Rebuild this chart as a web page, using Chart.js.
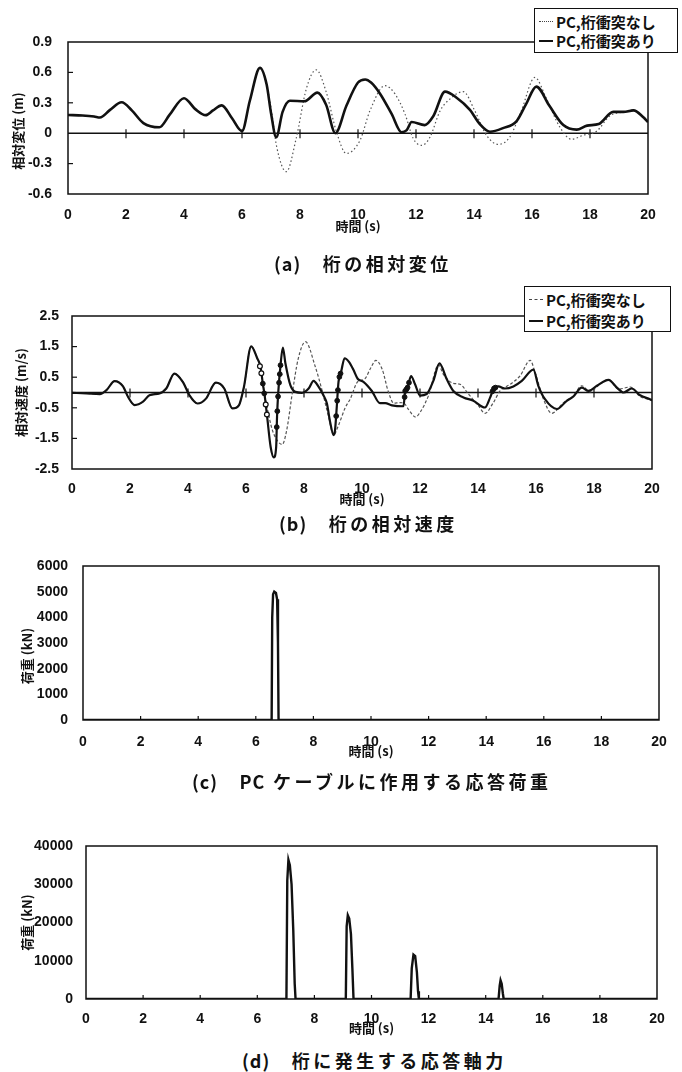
<!DOCTYPE html>
<html><head><meta charset="utf-8">
<script src="https://cdn.jsdelivr.net/npm/chart.js@4.4.1/dist/chart.umd.min.js"></script>
<style>
html,body{margin:0;padding:0;background:#fff;}
body{width:682px;height:1072px;position:relative;overflow:hidden;font-family:'Noto Sans CJK JP',sans-serif;color:#111;}
canvas{position:absolute;left:0;}
.title{position:absolute;font-weight:700;font-size:18px;letter-spacing:3.5px;white-space:nowrap;line-height:22px;z-index:5;}
.title .p{letter-spacing:1px;}
.legend{position:absolute;box-sizing:border-box;background:#fff;border:1.5px solid #111;z-index:6;font-weight:700;font-size:15px;white-space:nowrap;padding-left:4px;}
.legend .row{display:flex;align-items:center;}
.legend .s{display:inline-block;width:14px;margin-right:3px;height:0;}
</style></head>
<body>
<canvas id="ca" width="682" height="240" style="top:0px"></canvas>
<canvas id="cb" width="682" height="260" style="top:250px"></canvas>
<canvas id="cc" width="682" height="240" style="top:530px"></canvas>
<canvas id="cd" width="682" height="250" style="top:790px"></canvas>

<div class="legend" style="left:534px;top:8px;width:144px;height:45px;padding-top:3px;line-height:19px;">
  <div class="row"><span class="s" style="border-top:1.5px dotted #444"></span>PC,桁衝突なし</div>
  <div class="row"><span class="s" style="border-top:2px solid #111"></span>PC,桁衝突あり</div>
</div>
<div class="legend" style="left:524px;top:286px;width:147px;height:46px;padding-top:2px;line-height:21px;">
  <div class="row"><span class="s" style="border-top:1.5px dashed #444"></span>PC,桁衝突なし</div>
  <div class="row"><span class="s" style="border-top:2px solid #111"></span>PC,桁衝突あり</div>
</div>

<div class="title" style="left:274px;top:252px;"><span class="p">(a)</span>　桁の相対変位</div>
<div class="title" style="left:279px;top:512px;"><span class="p">(b)</span>　桁の相対速度</div>
<div class="title" style="left:192px;top:770px;"><span class="p">(c)</span>　<span class="p">PC</span> ケーブルに作用する応答荷重</div>
<div class="title" style="left:242px;top:1049px;"><span class="p">(d)</span>　桁に発生する応答軸力</div>

<script>
// ---------- data ----------
const xTicks = [0,2,4,6,8,10,12,14,16,18,20];

// (a) relative displacement (m)
const aTimeSolid = [0,0.5,0.9,1.1,1.45,1.85,2.2,2.6,3.15,3.5,4.0,4.4,4.75,5.0,5.3,5.65,6.0,6.27,6.62,6.85,7.0,7.18,7.4,7.65,8.15,8.6,8.9,9.22,9.6,10.0,10.25,10.45,10.76,11.16,11.5,11.68,11.85,12.3,12.6,13.0,13.4,13.86,14.2,14.55,15.0,15.47,15.8,16.15,16.6,17.08,17.54,17.9,18.3,18.8,19.15,19.5,19.83,20];
const aSolid = [0.18,0.175,0.165,0.155,0.23,0.305,0.225,0.10,0.058,0.18,0.345,0.235,0.178,0.225,0.275,0.15,0.02,0.32,0.645,0.48,0.2,-0.04,0.21,0.32,0.315,0.40,0.28,0.0,0.27,0.5,0.53,0.5,0.39,0.19,0.01,0.03,0.11,0.08,0.17,0.41,0.35,0.23,0.09,0.015,0.05,0.12,0.29,0.46,0.27,0.08,0.035,0.075,0.09,0.21,0.21,0.225,0.16,0.11];
const aTimeDot = [0,0.5,0.9,1.1,1.45,1.85,2.2,2.6,3.15,3.5,4.0,4.4,4.75,5.0,5.3,5.65,6.0,6.27,6.62,6.85,7.0,7.2,7.53,7.87,8.22,8.56,8.9,9.25,9.6,10.07,10.41,10.93,11.27,11.62,11.9,12.2,12.48,12.83,13.18,13.63,14.03,14.43,14.83,15.23,15.63,16.1,16.5,16.96,17.36,17.77,18.23,18.68,19.15,19.49,19.83,20];
const aDot = [0.18,0.175,0.165,0.155,0.23,0.305,0.225,0.10,0.058,0.18,0.345,0.235,0.178,0.225,0.275,0.15,0.02,0.32,0.645,0.47,0.25,-0.14,-0.38,-0.05,0.44,0.625,0.41,0.02,-0.2,-0.07,0.22,0.47,0.39,0.19,-0.05,-0.12,-0.04,0.22,0.34,0.41,0.22,-0.02,-0.11,-0.04,0.22,0.55,0.34,0.06,-0.06,-0.02,0.02,0.17,0.21,0.23,0.16,0.11];

// (b) relative velocity (m/s)
const bTimeSolid = [0,0.5,0.96,1.19,1.47,1.76,1.93,2.16,2.45,2.67,3.02,3.25,3.53,3.82,4.05,4.33,4.62,4.96,5.25,5.53,5.76,5.93,6.18,6.39,6.5,6.58,6.65,6.73,6.85,6.96,7.04,7.07,7.11,7.19,7.27,7.36,7.53,7.7,7.93,8.16,8.33,8.5,8.67,8.79,8.9,9.02,9.07,9.13,9.19,9.28,9.4,9.55,9.7,9.85,10.05,10.34,10.62,10.8,11.03,11.43,11.49,11.57,11.69,11.83,12.0,12.23,12.46,12.67,12.92,13.15,13.5,13.84,14.24,14.42,14.53,14.7,14.93,15.22,15.51,15.91,16.08,16.31,16.72,17.06,17.29,17.58,17.81,18.1,18.5,18.79,19.02,19.3,19.59,19.93,20];
const bSolid = [-0.01,-0.03,-0.05,0.08,0.37,0.2,-0.14,-0.41,-0.3,-0.09,-0.03,0.13,0.62,0.35,-0.09,-0.36,-0.2,0.32,0.13,-0.52,-0.41,0.19,1.51,1.11,0.84,0.29,-0.14,-0.8,-1.78,-2.12,-1.78,-0.8,-0.03,0.89,1.47,0.95,0.24,0.02,-0.01,0.13,0.38,0.19,-0.09,-0.36,-0.96,-1.39,-1.23,-0.47,0.35,0.68,1.12,1.0,0.75,0.45,0.35,0.05,-0.35,-0.35,-0.42,-0.45,0.05,0.16,0.54,0.27,-0.1,-0.05,0.38,0.95,0.44,0.05,-0.16,-0.27,-0.49,-0.16,0.11,0.2,0.13,0.2,0.38,0.75,0.22,-0.22,-0.54,-0.27,-0.13,0.16,0.05,0.22,0.41,0.16,0.0,0.13,-0.09,-0.22,-0.25];
const bTimeDot = [0,0.5,0.96,1.19,1.47,1.76,1.93,2.16,2.45,2.67,3.02,3.25,3.53,3.82,4.05,4.33,4.62,4.96,5.25,5.53,5.76,5.93,6.18,6.39,6.5,6.58,6.65,6.73,6.9,7.1,7.25,7.4,7.6,7.8,8.05,8.39,8.62,8.85,9.02,9.19,9.42,9.6,9.85,10.1,10.3,10.48,10.7,10.9,11.1,11.3,11.45,11.6,11.85,12.0,12.29,12.64,12.8,13.15,13.38,13.67,14.02,14.24,14.53,14.76,15.11,15.45,15.8,15.97,16.26,16.54,16.95,17.29,17.58,17.87,18.16,18.5,18.84,19.25,19.59,19.93,20];
const bDot = [-0.01,-0.03,-0.05,0.08,0.37,0.2,-0.14,-0.41,-0.3,-0.09,-0.03,0.13,0.62,0.35,-0.09,-0.36,-0.2,0.32,0.13,-0.52,-0.41,0.19,1.51,1.11,0.84,0.29,-0.1,-0.5,-1.2,-1.6,-1.7,-1.25,0.0,1.1,1.66,0.84,0.08,-0.8,-1.39,-1.07,-0.5,-0.2,0.35,0.45,0.8,1.05,0.75,0.05,-0.35,-0.33,-0.35,-0.55,-0.8,-0.65,-0.11,0.9,0.6,0.3,0.27,-0.05,-0.44,-0.68,-0.33,0.05,0.27,0.54,1.05,0.65,-0.22,-0.68,-0.33,-0.11,0.22,0.02,0.24,0.43,0.11,0.18,-0.13,-0.24,-0.27];
// collision markers on the (b) curve
const bOpenT = [6.48,6.53,6.68,6.72];
const bOpenV = [0.86,0.63,-0.39,-0.72];
const bFillT = [6.58,6.63,7.06,7.08,7.105,7.14,7.165,7.19,9.11,9.145,9.17,9.22,9.26,11.47,11.49,11.53,11.57,11.62,14.5,14.55,14.6];
const bFillV = [0.29,-0.03,-1.13,-0.61,-0.13,0.32,0.6,0.89,-0.77,-0.27,0.08,0.51,0.62,-0.15,0.05,0.1,0.16,0.32,0.04,0.13,0.16];

// (c) PC cable load (kN)
const cTime = [0,6.55,6.57,6.6,6.64,6.7,6.74,6.77,6.79,20];
const cLoad = [0,0,4000,4900,5000,4950,4700,3000,0,0];

// (d) girder axial force (kN)
const dTime = [0,7.02,7.05,7.09,7.14,7.2,7.26,7.31,7.34,9.1,9.13,9.17,9.22,9.28,9.33,9.37,11.37,11.41,11.47,11.53,11.59,11.63,11.66,14.45,14.49,14.52,14.56,14.6,14.63,20];
const dLoad = [0,0,31000,36400,35000,30000,18000,4000,0,0,19000,21900,21000,17000,8000,0,0,8000,11600,11200,7000,2000,0,0,3500,4900,4000,1500,0,0];

// ---------- helpers ----------
const pts = (ts, vs) => ts.map((t, i) => ({x: t, y: vs[i]}));
const tickFont = {family: "'Liberation Sans',sans-serif", size: 14, weight: 'bold'};
const cjkFont = {family: "'Noto Sans CJK JP',sans-serif", size: 13, weight: 'bold'};

const axisDecor = {
  id: 'axisDecor',
  beforeDatasetsDraw(chart, args, o) {
    const {ctx, chartArea: a, scales: {x, y}} = chart;
    ctx.save();
    ctx.strokeStyle = '#111';
    const base = o.zero ? y.getPixelForValue(0) : a.bottom;
    if (o.zero) {
      ctx.lineWidth = 1.4;
      ctx.beginPath(); ctx.moveTo(a.left, base); ctx.lineTo(a.right, base); ctx.stroke();
    }
    ctx.lineWidth = 1.2;
    x.ticks.forEach(t => {
      if (t.value <= x.min || t.value >= x.max) return;
      const px = x.getPixelForValue(t.value);
      ctx.beginPath(); ctx.moveTo(px, base - o.up); ctx.lineTo(px, base + o.down); ctx.stroke();
    });
    if (o.yTicks) {
      y.ticks.forEach(t => {
        if (t.value <= y.min || t.value >= y.max || Math.abs(t.value) < 1e-9) return;
        const py = y.getPixelForValue(t.value);
        ctx.beginPath(); ctx.moveTo(a.left, py); ctx.lineTo(a.left + 5, py); ctx.stroke();
      });
    }
    ctx.restore();
  },
  afterDraw(chart) {
    const {ctx, chartArea: a} = chart;
    ctx.save();
    ctx.strokeStyle = '#111'; ctx.lineWidth = 1.5;
    ctx.strokeRect(a.left, a.top, a.right - a.left, a.bottom - a.top);
    ctx.restore();
  }
};

function build(id, H, area, datasets, y, deco) {
  return new Chart(document.getElementById(id), {
    type: 'line',
    data: {datasets},
    plugins: [axisDecor],
    options: {
      responsive: false, animation: false, events: [],
      layout: {padding: {top: area.top, right: 682 - area.right, left: 0, bottom: 0}},
      plugins: {legend: {display: false}, tooltip: {enabled: false}, axisDecor: deco},
      scales: {
        x: {
          type: 'linear', min: 0, max: 20,
          afterBuildTicks: s => { s.ticks = xTicks.map(v => ({value: v})); },
          ticks: {padding: area.xTickPad, font: tickFont, color: '#111', maxRotation: 0, autoSkip: false},
          grid: {display: false, drawTicks: false}, border: {display: false},
          title: {display: true, text: '時間 (s)', font: cjkFont, color: '#111', padding: {top: 0, bottom: area.xTitlePad}},
          afterFit: s => { s.height = H - area.bottom; }
        },
        y: {
          min: y.min, max: y.max,
          ticks: {stepSize: y.step, padding: area.yTickPad, font: tickFont, color: '#111', callback: y.fmt},
          grid: {display: false, drawTicks: false}, border: {display: false},
          title: {display: true, text: y.title, font: cjkFont, color: '#111', padding: {top: area.yTitlePad, bottom: 0}},
          afterFit: s => { s.width = area.left; }
        }
      }
    }
  });
}

const fmt1 = v => Math.abs(v) < 1e-9 ? '0' : v.toFixed(1);
const fmt0 = v => String(Math.round(v));

build('ca', 240, {left: 68, right: 648, top: 42, bottom: 194, xTickPad: 13, xTitlePad: 6, yTickPad: 16, yTitlePad: 10}, [
  {data: pts(aTimeSolid, aSolid), borderColor: '#111', borderWidth: 2.6, pointRadius: 0, cubicInterpolationMode: 'monotone'},
  {data: pts(aTimeDot, aDot), borderColor: '#555', borderWidth: 1.2, borderDash: [1.5, 2.5], pointRadius: 0, cubicInterpolationMode: 'monotone'}
], {min: -0.6, max: 0.9, step: 0.3, fmt: fmt1, title: '相対変位 (m)　　'}, {zero: true, up: 4, down: 5, yTicks: true});

build('cb', 260, {left: 72, right: 652, top: 66, bottom: 219, xTickPad: 12, xTitlePad: 3, yTickPad: 13, yTitlePad: 13}, [
  {data: pts(bOpenT, bOpenV), showLine: false, pointRadius: 2.4, pointBackgroundColor: '#fff', pointBorderColor: '#111', pointBorderWidth: 1.2},
  {data: pts(bFillT, bFillV), showLine: false, pointRadius: 2.4, pointBackgroundColor: '#111', pointBorderColor: '#111', pointBorderWidth: 1},
  {data: pts(bTimeSolid, bSolid), borderColor: '#111', borderWidth: 2.2, pointRadius: 0, cubicInterpolationMode: 'monotone'},
  {data: pts(bTimeDot, bDot), borderColor: '#555', borderWidth: 1.2, borderDash: [3, 2], pointRadius: 0, cubicInterpolationMode: 'monotone'}
], {min: -2.5, max: 2.5, step: 1, fmt: fmt1, title: '相対速度 (m/s)'}, {zero: true, up: 4, down: 5, yTicks: true});

build('cc', 240, {left: 83, right: 659, top: 36, bottom: 190, xTickPad: 14, xTitlePad: 11, yTickPad: 15, yTitlePad: 19}, [
  {data: pts(cTime, cLoad), borderColor: '#111', borderWidth: 2.4, pointRadius: 0, tension: 0}
], {min: 0, max: 6000, step: 1000, fmt: fmt0, title: '荷重 (kN)　　'}, {zero: false, up: 4, down: 0, yTicks: false});

build('cd', 250, {left: 86, right: 657, top: 56, bottom: 209, xTickPad: 12, xTitlePad: 4, yTickPad: 13, yTitlePad: 19}, [
  {data: pts(dTime, dLoad), borderColor: '#111', borderWidth: 2.4, pointRadius: 0, tension: 0}
], {min: 0, max: 40000, step: 10000, fmt: fmt0, title: '荷重 (kN)'}, {zero: false, up: 4, down: 0, yTicks: false});
</script>
</body></html>
